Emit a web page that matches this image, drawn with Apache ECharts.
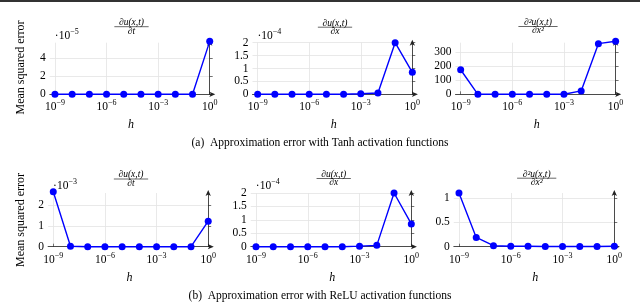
<!DOCTYPE html>
<html><head><meta charset="utf-8">
<script src="https://cdn.jsdelivr.net/npm/echarts@6/dist/echarts.min.js"></script>
<style>html,body{margin:0;padding:0;background:#fff}#c{width:640px;height:302px}</style>
</head><body><div id="c"></div>
<script>
// ---- data ----
const hExp = [-9, -8, -7, -6, -5, -4, -3, -2, -1, 0];   // h = 10^exp
const xTickExp = [-9, -6, -3, 0];
// Tanh (a)
const tanhDt  = [0, 0, 0, 0, 0, 0, 0, 0, 0, 5.9];              // x1e-5
const tanhDx  = [0, 0, 0, 0, 0, 0, 0.02, 0.05, 2.0, 0.85];     // x1e-4
const tanhDxx = [175, 0, 0, 0, 0, 0, 0, 24, 361, 378];
// ReLU (b)
const reluDt  = [2.63, 0.02, 0, 0, 0, 0, 0, 0, 0, 1.22];       // x1e-3
const reluDx  = [0, 0, 0, 0, 0, 0, 0.02, 0.05, 2.0, 0.85];     // x1e-4
const reluDxx = [1.1, 0.19, 0.02, 0.01, 0.01, 0.005, 0.005, 0.005, 0.005, 0.01];
// y tick labels
const yTicksDt  = [0, 2, 4];
const yTicksDx  = [0, 0.5, 1, 1.5, 2];
const yTicksDxx = [0, 100, 200, 300];
const yTicksRDt = [0, 1, 2];
const yTicksRDxx = [0, 0.5, 1];
const captionA = '(a)  Approximation error with Tanh activation functions';
const captionB = '(b)  Approximation error with ReLU activation functions';
const yLabel = 'Mean squared error';

// ---- layout ----
const SERIF = 'Liberation Serif, DejaVu Serif, serif';
const panels = [
  {data: tanhDt,  yt: yTicksDt,  max: 5.75, exp: '−5', num: '∂u(x,t)',  den: '∂t',  L: 49.8,  T: 42.7, W: 162.5, H: 51.6, cx: 131.5, ty: 22.5},
  {data: tanhDx,  yt: yTicksDx,  max: 2.0,  exp: '−4', num: '∂u(x,t)',  den: '∂x',  L: 252.5, T: 42.7, W: 162.4, H: 51.6, cx: 335,   ty: 23},
  {data: tanhDxx, yt: yTicksDxx, max: 368,  exp: null, num: '∂²u(x,t)', den: '∂x²', L: 455.5, T: 42.7, W: 162.7, H: 51.6, cx: 538,   ty: 22.3},
  {data: reluDt,  yt: yTicksRDt, max: 2.57, exp: '−3', num: '∂u(x,t)',  den: '∂t',  L: 48.1,  T: 193,  W: 162.7, H: 53.7, cx: 131,   ty: 174.8},
  {data: reluDx,  yt: yTicksDx,  max: 2.0,  exp: '−4', num: '∂u(x,t)',  den: '∂x',  L: 250.8, T: 193,  W: 163.1, H: 53.7, cx: 333.7, ty: 174.3},
  {data: reluDxx, yt: yTicksRDxx,max: 1.1,  exp: null, num: '∂²u(x,t)', den: '∂x²', L: 453.8, T: 193,  W: 163.1, H: 53.7, cx: 536.7, ty: 174}
];

const grids = [], xAxes = [], yAxes = [], series = [], graphics = [];
graphics.push({type: 'rect', shape: {x: 0, y: 0, width: 640, height: 2}, style: {fill: '#333'}});

panels.forEach((p, i) => {
  grids.push({left: p.L, top: p.T, width: p.W, height: p.H});
  xAxes.push({
    type: 'value', gridIndex: i, min: -9.3, max: 0.15,
    name: 'h', nameLocation: 'middle', nameGap: 25,
    nameTextStyle: {fontFamily: SERIF, fontStyle: 'italic', fontSize: 12, color: '#000'},
    axisLine: {onZero: false, lineStyle: {color: '#222', width: 0.8}, symbol: ['none', 'arrow'], symbolSize: [4, 6], symbolOffset: [0, 3]},
    axisTick: {customValues: xTickExp, inside: true, length: 3, lineStyle: {color: '#222', width: 0.6}},
    axisLabel: {
      customValues: xTickExp, margin: 5, color: '#000',
      formatter: v => '{b|10}{s|' + (v < 0 ? '−' + (-v) : v) + '}',
      rich: {b: {fontFamily: SERIF, fontSize: 11.5, color: '#000', verticalAlign: 'bottom', lineHeight: 14},
             s: {fontFamily: SERIF, fontSize: 8, color: '#000', verticalAlign: 'top', lineHeight: 14}}
    },
    splitLine: {show: true, lineStyle: {color: '#e3e3e3', width: 0.8}}
  });
  yAxes.push({
    type: 'value', gridIndex: i, min: 0, max: p.max,
    axisLine: {show: true, lineStyle: {color: '#222', width: 0.8}, symbol: ['none', 'arrow'], symbolSize: [4, 6], symbolOffset: [0, 3]},
    axisTick: {show: true, customValues: p.yt, inside: true, length: 3, lineStyle: {color: '#222', width: 0.6}},
    axisLabel: {customValues: p.yt, margin: 4, color: '#000', fontFamily: SERIF, fontSize: 11.5},
    splitLine: {show: true, lineStyle: {color: '#e3e3e3', width: 0.8}}
  });
  series.push({
    type: 'line', xAxisIndex: i, yAxisIndex: i,
    data: hExp.map((e, k) => [e, p.data[k]]),
    clip: false, symbol: 'circle', symbolSize: 7,
    lineStyle: {color: '#0000ff', width: 1.4},
    itemStyle: {color: '#0000ff'}
  });
  // exponent annotation
  if (p.exp) {
    graphics.push({type: 'text', x: p.L + 5, y: p.T - 8, style: {
      text: '{b|·10}{s|' + p.exp + '}', verticalAlign: 'middle',
      rich: {b: {fontFamily: SERIF, fontSize: 11.5, fill: '#000', verticalAlign: 'bottom', lineHeight: 14},
             s: {fontFamily: SERIF, fontSize: 8, fill: '#000', verticalAlign: 'top', lineHeight: 14}}
    }});
  }
  // fraction title
  const nw = p.num.length * 4.9;
  graphics.push({type: 'text', x: p.cx, y: p.ty, style: {text: p.num, align: 'center', verticalAlign: 'middle', font: 'italic 9.5px ' + SERIF, fill: '#000'}});
  graphics.push({type: 'line', shape: {x1: p.cx - nw / 2, y1: p.ty + 4.2, x2: p.cx + nw / 2, y2: p.ty + 4.2}, style: {stroke: '#000', lineWidth: 0.6}});
  graphics.push({type: 'text', x: p.cx, y: p.ty + 8.5, style: {text: p.den, align: 'center', verticalAlign: 'middle', font: 'italic 9.5px ' + SERIF, fill: '#000'}});
});

graphics.push({type: 'text', x: 20.5, y: 67.5, rotation: Math.PI / 2, style: {text: yLabel, align: 'center', verticalAlign: 'middle', font: '12px ' + SERIF, fill: '#000'}});
graphics.push({type: 'text', x: 20.5, y: 220, rotation: Math.PI / 2, style: {text: yLabel, align: 'center', verticalAlign: 'middle', font: '12px ' + SERIF, fill: '#000'}});
graphics.push({type: 'text', x: 320, y: 143, style: {text: captionA, align: 'center', verticalAlign: 'middle', font: '11.5px ' + SERIF, fill: '#000'}});
graphics.push({type: 'text', x: 320, y: 295.5, style: {text: captionB, align: 'center', verticalAlign: 'middle', font: '11.5px ' + SERIF, fill: '#000'}});

const chart = echarts.init(document.getElementById('c'), null, {renderer: 'canvas'});
chart.setOption({
  animation: false,
  backgroundColor: '#fff',
  grid: grids, xAxis: xAxes, yAxis: yAxes, series: series, graphic: graphics
});
</script></body></html>
